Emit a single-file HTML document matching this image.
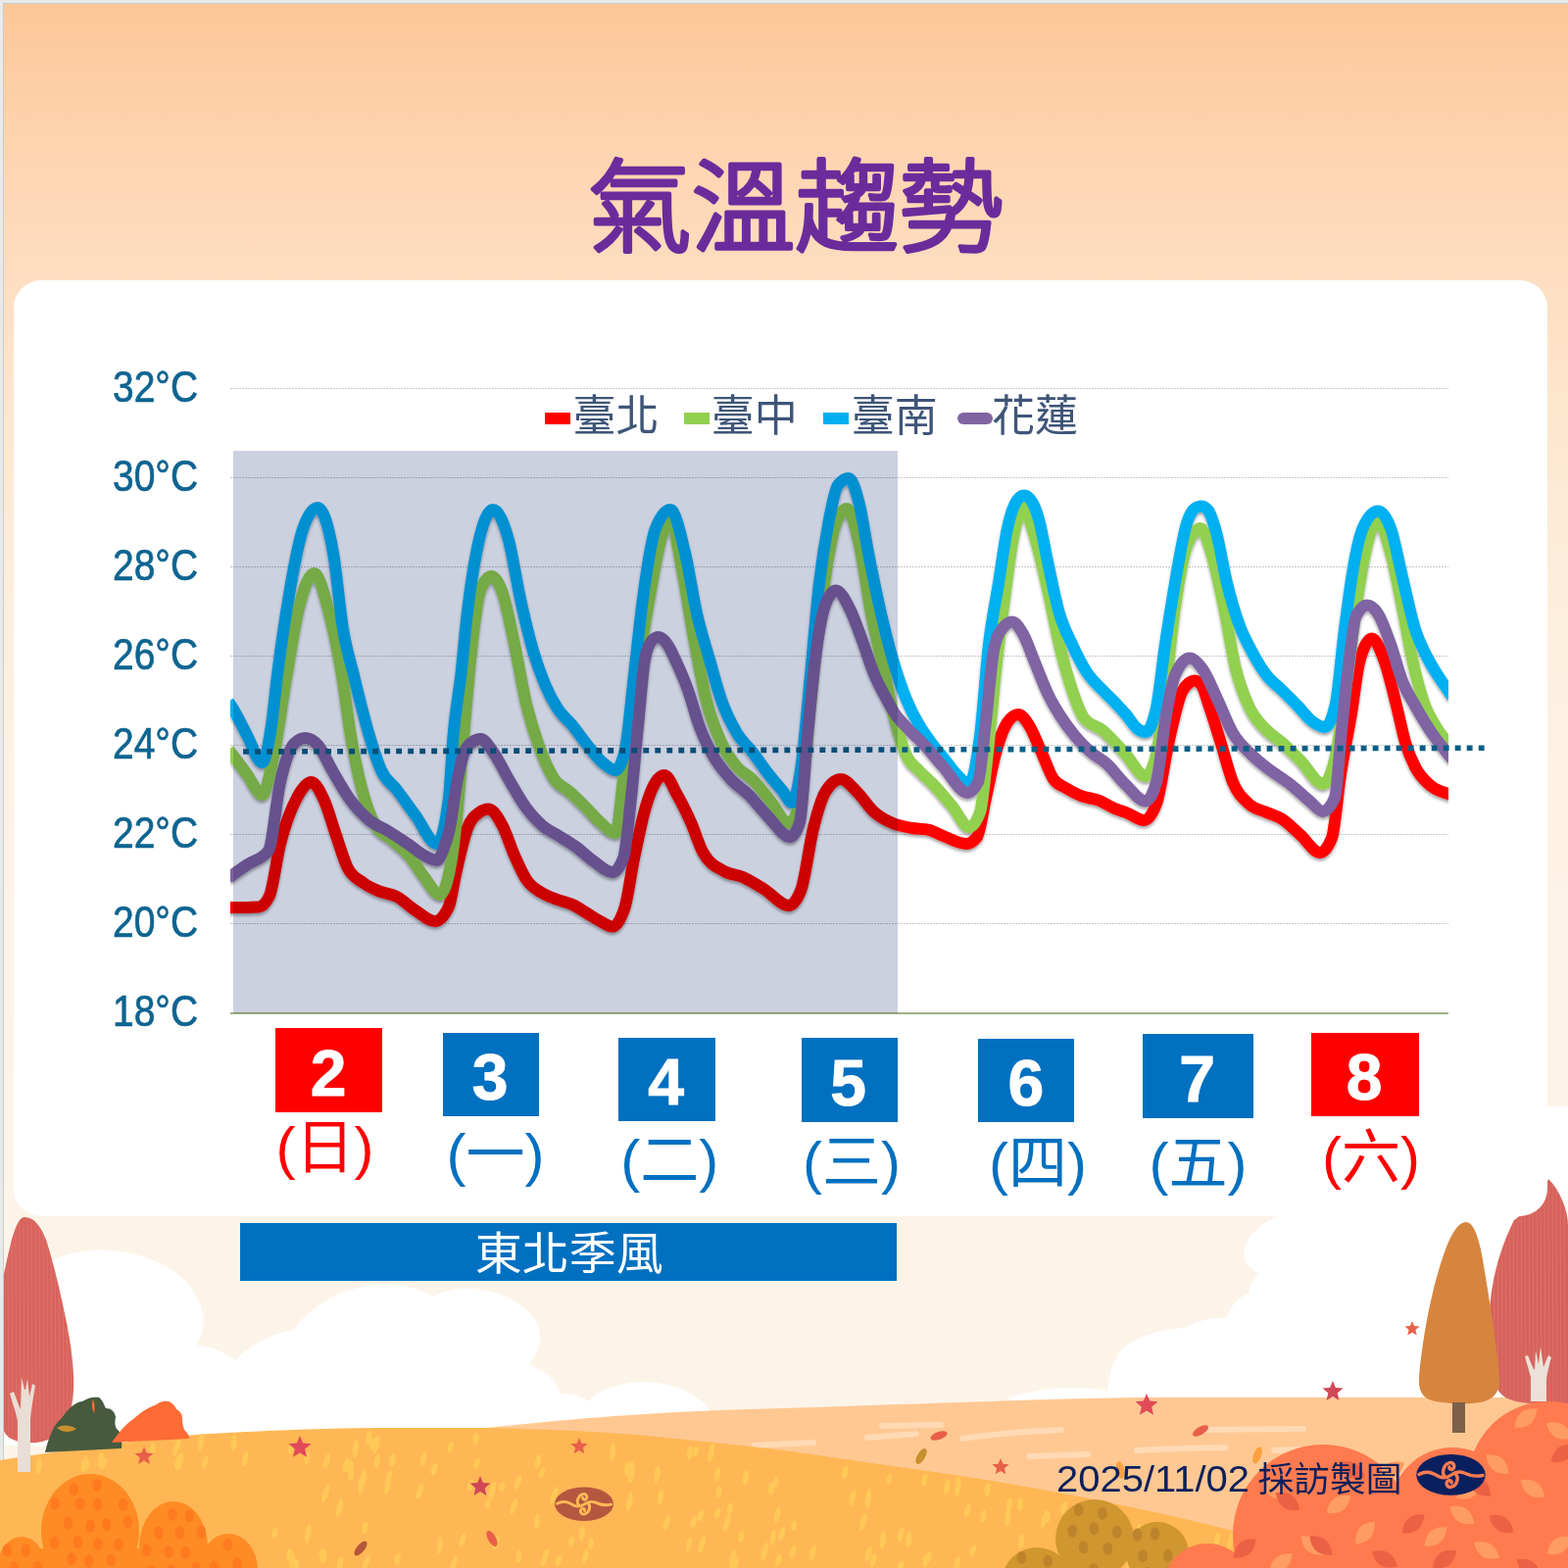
<!DOCTYPE html><html><head><meta charset="utf-8"><title>氣溫趨勢</title><style>
html,body{margin:0;padding:0;width:1600px;height:1600px;overflow:hidden;background:#E8EAEA}
svg{display:block}
.yl{font-family:"Liberation Sans",sans-serif;font-size:45px;fill:#0E6490;stroke:#0E6490;stroke-width:0.7}
.lg{font-family:'Liberation Sans', 'Noto Sans CJK TC', sans-serif;font-size:44px;fill:#3E5578}
.num{font-family:'Liberation Sans',sans-serif;font-weight:700;font-size:66px;fill:#FFFFFF;stroke:#FFFFFF;stroke-width:1}
.wk{font-family:'Liberation Sans', 'Noto Sans CJK TC', sans-serif;font-size:60px}
</style></head><body>
<svg width="1600" height="1600" viewBox="0 0 1600 1600">
<defs>
<linearGradient id="bg" x1="0" y1="0" x2="0" y2="1600" gradientUnits="userSpaceOnUse">
<stop offset="0" stop-color="#FDC698"/>
<stop offset="0.094" stop-color="#FED4AF"/>
<stop offset="0.18" stop-color="#FDDEC2"/>
<stop offset="0.25" stop-color="#FEE5CD"/>
<stop offset="0.375" stop-color="#FDEEDC"/>
<stop offset="0.5" stop-color="#FDF2E4"/>
<stop offset="0.78" stop-color="#FDF4E9"/>
<stop offset="1" stop-color="#FDF4E9"/>
</linearGradient>
<clipPath id="plot"><rect x="235" y="380" width="1243" height="660"/></clipPath>
<filter id="sh" x="-5%" y="-5%" width="110%" height="110%"><feDropShadow dx="0" dy="2.5" stdDeviation="1.8" flood-color="#000" flood-opacity="0.35"/></filter>
</defs>
<rect x="0" y="0" width="1600" height="1600" fill="#E8EAEA"/>
<rect x="3" y="3" width="1597" height="1597" fill="#C9CBCD"/>
<rect x="4" y="4" width="1596" height="1596" fill="url(#bg)"/>
<path d="M45,1292 C60,1280 90,1274 110,1276 C150,1278 185,1295 200,1322 C210,1340 210,1360 200,1372 C215,1374 230,1380 240,1388 C255,1372 280,1360 300,1357 C312,1338 340,1318 375,1312 C395,1308 425,1312 442,1323 C455,1316 470,1314 480,1315 C510,1316 535,1330 545,1345 C555,1360 552,1378 540,1392 C555,1398 568,1408 572,1422 C585,1422 595,1426 600,1430 C610,1420 630,1411 655,1410 C690,1410 715,1425 725,1440 L725,1475 L4,1475 L4,1380 L40,1380 Z" fill="#FFFFFF"/>
<path d="M1305,1241 C1290,1246 1272,1260 1270,1275 C1268,1285 1275,1295 1285,1300 C1278,1305 1274,1313 1275,1320 C1265,1322 1255,1333 1252,1345 C1240,1344 1222,1347 1210,1355 C1190,1356 1160,1362 1145,1377 C1135,1390 1131,1405 1130,1420 C1110,1414 1070,1414 1030,1426 L1030,1440 L1600,1440 L1600,1129 L1570,1129 L1570,1241 Z" fill="#FFFFFF"/>
<path d="M470,1460 C600,1445 700,1439 800,1437 C950,1432 1050,1428 1160,1426 L1600,1426 L1600,1600 L470,1600 Z" fill="#FFC893"/>
<g stroke="#FFDCB8" stroke-width="6" stroke-linecap="round" fill="none" opacity="0.9"><path d="M770,1475 L830,1472"/><path d="M885,1467 Q910,1465 935,1463"/><path d="M982,1468 Q1030,1461 1083,1459"/><path d="M1050,1486 L1110,1484"/><path d="M1160,1480 Q1200,1478 1250,1477"/><path d="M1230,1459 L1330,1458"/><path d="M900,1455 L960,1454"/><path d="M1300,1480 L1360,1478"/></g>
<path d="M0,1490 C80,1478 150,1468 200,1464 C280,1459 340,1457 400,1457 L500,1457 C560,1458 610,1461 650,1464 C700,1469 750,1474 800,1480 C870,1490 940,1500 1000,1509 C1080,1522 1170,1540 1250,1560 L1430,1600 L0,1600 Z" fill="#FFB755"/>
<g fill="#FFC857" opacity="1.0"><ellipse cx="459.8" cy="1476.9" rx="3.0" ry="5.5" transform="rotate(15 459.8 1476.9)"/><ellipse cx="761.0" cy="1508.0" rx="3.0" ry="7.7" transform="rotate(6 761.0 1508.0)"/><ellipse cx="602.8" cy="1574.9" rx="3.0" ry="6.2" transform="rotate(7 602.8 1574.9)"/><ellipse cx="891.0" cy="1592.4" rx="3.0" ry="7.1" transform="rotate(14 891.0 1592.4)"/><ellipse cx="204.8" cy="1472.1" rx="3.0" ry="9.3" transform="rotate(10 204.8 1472.1)"/><ellipse cx="907.3" cy="1509.0" rx="3.0" ry="5.4" transform="rotate(13 907.3 1509.0)"/><ellipse cx="966.2" cy="1517.0" rx="3.0" ry="8.1" transform="rotate(10 966.2 1517.0)"/><ellipse cx="643.5" cy="1498.5" rx="3.0" ry="8.7" transform="rotate(17 643.5 1498.5)"/><ellipse cx="346.6" cy="1538.3" rx="3.0" ry="9.6" transform="rotate(13 346.6 1538.3)"/><ellipse cx="593.7" cy="1564.8" rx="3.0" ry="7.6" transform="rotate(7 593.7 1564.8)"/><ellipse cx="1085.7" cy="1538.1" rx="3.0" ry="6.7" transform="rotate(18 1085.7 1538.1)"/><ellipse cx="987.3" cy="1541.2" rx="3.0" ry="7.4" transform="rotate(14 987.3 1541.2)"/><ellipse cx="1192.8" cy="1592.0" rx="3.0" ry="8.5" transform="rotate(12 1192.8 1592.0)"/><ellipse cx="918.9" cy="1599.0" rx="3.0" ry="6.6" transform="rotate(17 918.9 1599.0)"/><ellipse cx="547.8" cy="1552.0" rx="3.0" ry="7.5" transform="rotate(5 547.8 1552.0)"/><ellipse cx="238.6" cy="1472.0" rx="3.0" ry="9.0" transform="rotate(6 238.6 1472.0)"/><ellipse cx="183.7" cy="1490.9" rx="3.0" ry="9.5" transform="rotate(11 183.7 1490.9)"/><ellipse cx="780.2" cy="1583.1" rx="3.0" ry="9.5" transform="rotate(17 780.2 1583.1)"/><ellipse cx="395.4" cy="1515.2" rx="3.0" ry="9.6" transform="rotate(10 395.4 1515.2)"/><ellipse cx="250.2" cy="1488.6" rx="3.0" ry="7.6" transform="rotate(9 250.2 1488.6)"/><ellipse cx="524.3" cy="1537.1" rx="3.0" ry="8.6" transform="rotate(19 524.3 1537.1)"/><ellipse cx="732.0" cy="1544.6" rx="3.0" ry="5.4" transform="rotate(15 732.0 1544.6)"/><ellipse cx="1241.8" cy="1570.7" rx="3.0" ry="7.1" transform="rotate(11 1241.8 1570.7)"/><ellipse cx="296.4" cy="1478.5" rx="3.0" ry="5.4" transform="rotate(10 296.4 1478.5)"/><ellipse cx="358.2" cy="1505.4" rx="3.0" ry="5.7" transform="rotate(10 358.2 1505.4)"/><ellipse cx="1205.5" cy="1599.0" rx="3.0" ry="7.6" transform="rotate(12 1205.5 1599.0)"/><ellipse cx="486.5" cy="1493.4" rx="3.0" ry="5.9" transform="rotate(17 486.5 1493.4)"/><ellipse cx="749.9" cy="1596.9" rx="3.0" ry="8.7" transform="rotate(18 749.9 1596.9)"/><ellipse cx="370.8" cy="1508.2" rx="3.0" ry="9.0" transform="rotate(8 370.8 1508.2)"/><ellipse cx="756.3" cy="1568.0" rx="3.0" ry="6.2" transform="rotate(10 756.3 1568.0)"/><ellipse cx="1152.3" cy="1597.8" rx="3.0" ry="9.2" transform="rotate(18 1152.3 1597.8)"/><ellipse cx="1162.0" cy="1562.3" rx="3.0" ry="7.7" transform="rotate(8 1162.0 1562.3)"/><ellipse cx="39.7" cy="1495.5" rx="3.0" ry="8.6" transform="rotate(9 39.7 1495.5)"/><ellipse cx="1330.6" cy="1598.3" rx="3.0" ry="7.0" transform="rotate(19 1330.6 1598.3)"/><ellipse cx="313.1" cy="1487.9" rx="3.0" ry="6.1" transform="rotate(8 313.1 1487.9)"/><ellipse cx="886.2" cy="1585.5" rx="3.0" ry="7.5" transform="rotate(18 886.2 1585.5)"/><ellipse cx="927.2" cy="1570.9" rx="3.0" ry="8.5" transform="rotate(6 927.2 1570.9)"/><ellipse cx="472.2" cy="1571.1" rx="3.0" ry="7.1" transform="rotate(20 472.2 1571.1)"/><ellipse cx="570.0" cy="1592.3" rx="3.0" ry="6.0" transform="rotate(16 570.0 1592.3)"/><ellipse cx="180.4" cy="1476.9" rx="3.0" ry="9.2" transform="rotate(19 180.4 1476.9)"/><ellipse cx="497.6" cy="1534.6" rx="3.0" ry="5.2" transform="rotate(7 497.6 1534.6)"/><ellipse cx="747.7" cy="1590.4" rx="3.0" ry="9.5" transform="rotate(12 747.7 1590.4)"/><ellipse cx="357.6" cy="1497.5" rx="3.0" ry="8.1" transform="rotate(9 357.6 1497.5)"/><ellipse cx="368.3" cy="1515.8" rx="3.0" ry="9.7" transform="rotate(7 368.3 1515.8)"/><ellipse cx="502.4" cy="1521.4" rx="3.0" ry="9.7" transform="rotate(14 502.4 1521.4)"/><ellipse cx="597.3" cy="1588.1" rx="3.0" ry="7.8" transform="rotate(13 597.3 1588.1)"/><ellipse cx="625.0" cy="1481.6" rx="3.0" ry="9.2" transform="rotate(5 625.0 1481.6)"/><ellipse cx="1029.8" cy="1535.7" rx="3.0" ry="7.7" transform="rotate(10 1029.8 1535.7)"/><ellipse cx="788.7" cy="1568.7" rx="3.0" ry="8.0" transform="rotate(7 788.7 1568.7)"/><ellipse cx="352.9" cy="1495.2" rx="3.0" ry="7.7" transform="rotate(17 352.9 1495.2)"/><ellipse cx="797.7" cy="1565.2" rx="3.0" ry="7.4" transform="rotate(19 797.7 1565.2)"/><ellipse cx="869.8" cy="1528.3" rx="3.0" ry="8.6" transform="rotate(13 869.8 1528.3)"/><ellipse cx="642.3" cy="1532.3" rx="3.0" ry="9.9" transform="rotate(12 642.3 1532.3)"/><ellipse cx="992.9" cy="1582.1" rx="3.0" ry="6.4" transform="rotate(19 992.9 1582.1)"/><ellipse cx="794.5" cy="1591.8" rx="3.0" ry="5.8" transform="rotate(18 794.5 1591.8)"/><ellipse cx="103.0" cy="1489.9" rx="3.0" ry="8.5" transform="rotate(6 103.0 1489.9)"/><ellipse cx="1113.2" cy="1585.1" rx="3.0" ry="8.8" transform="rotate(7 1113.2 1585.1)"/><ellipse cx="1253.6" cy="1595.3" rx="3.0" ry="10.0" transform="rotate(8 1253.6 1595.3)"/><ellipse cx="565.5" cy="1525.7" rx="3.0" ry="9.3" transform="rotate(20 565.5 1525.7)"/><ellipse cx="732.2" cy="1504.2" rx="3.0" ry="6.7" transform="rotate(8 732.2 1504.2)"/><ellipse cx="786.8" cy="1518.9" rx="3.0" ry="6.8" transform="rotate(5 786.8 1518.9)"/><ellipse cx="886.0" cy="1529.3" rx="3.0" ry="10.1" transform="rotate(6 886.0 1529.3)"/><ellipse cx="1119.5" cy="1595.9" rx="3.0" ry="6.5" transform="rotate(7 1119.5 1595.9)"/><ellipse cx="384.0" cy="1473.8" rx="3.0" ry="9.7" transform="rotate(11 384.0 1473.8)"/><ellipse cx="810.2" cy="1556.6" rx="3.0" ry="5.4" transform="rotate(6 810.2 1556.6)"/><ellipse cx="977.3" cy="1516.7" rx="3.0" ry="9.9" transform="rotate(6 977.3 1516.7)"/><ellipse cx="900.9" cy="1571.2" rx="3.0" ry="9.5" transform="rotate(6 900.9 1571.2)"/><ellipse cx="644.4" cy="1504.2" rx="3.0" ry="9.8" transform="rotate(13 644.4 1504.2)"/><ellipse cx="380.4" cy="1473.7" rx="3.0" ry="6.3" transform="rotate(13 380.4 1473.7)"/><ellipse cx="155.4" cy="1478.4" rx="3.0" ry="6.1" transform="rotate(6 155.4 1478.4)"/><ellipse cx="443.0" cy="1499.2" rx="3.0" ry="6.6" transform="rotate(16 443.0 1499.2)"/><ellipse cx="710.1" cy="1480.8" rx="3.0" ry="5.2" transform="rotate(10 710.1 1480.8)"/><ellipse cx="1041.0" cy="1534.9" rx="3.0" ry="7.5" transform="rotate(8 1041.0 1534.9)"/><ellipse cx="702.9" cy="1576.0" rx="3.0" ry="7.7" transform="rotate(11 702.9 1576.0)"/><ellipse cx="976.6" cy="1597.5" rx="3.0" ry="9.3" transform="rotate(10 976.6 1597.5)"/><ellipse cx="1003.6" cy="1547.2" rx="3.0" ry="6.9" transform="rotate(11 1003.6 1547.2)"/><ellipse cx="362.9" cy="1478.7" rx="3.0" ry="9.4" transform="rotate(6 362.9 1478.7)"/><ellipse cx="400.3" cy="1490.1" rx="3.0" ry="7.4" transform="rotate(9 400.3 1490.1)"/><ellipse cx="373.8" cy="1594.5" rx="3.0" ry="7.9" transform="rotate(20 373.8 1594.5)"/><ellipse cx="347.1" cy="1595.0" rx="3.0" ry="6.9" transform="rotate(10 347.1 1595.0)"/><ellipse cx="674.0" cy="1527.9" rx="3.0" ry="7.7" transform="rotate(8 674.0 1527.9)"/><ellipse cx="432.0" cy="1488.8" rx="3.0" ry="7.8" transform="rotate(14 432.0 1488.8)"/><ellipse cx="1065.8" cy="1550.3" rx="3.0" ry="9.6" transform="rotate(16 1065.8 1550.3)"/><ellipse cx="553.1" cy="1502.3" rx="3.0" ry="5.9" transform="rotate(20 553.1 1502.3)"/><ellipse cx="1028.3" cy="1548.3" rx="3.0" ry="9.4" transform="rotate(6 1028.3 1548.3)"/><ellipse cx="1042.1" cy="1572.8" rx="3.0" ry="7.8" transform="rotate(7 1042.1 1572.8)"/><ellipse cx="716.2" cy="1576.1" rx="3.0" ry="9.3" transform="rotate(17 716.2 1576.1)"/><ellipse cx="829.4" cy="1584.5" rx="3.0" ry="8.6" transform="rotate(15 829.4 1584.5)"/><ellipse cx="793.1" cy="1546.0" rx="3.0" ry="8.6" transform="rotate(14 793.1 1546.0)"/><ellipse cx="1132.7" cy="1563.5" rx="3.0" ry="7.8" transform="rotate(13 1132.7 1563.5)"/><ellipse cx="105.7" cy="1493.5" rx="3.0" ry="6.1" transform="rotate(16 105.7 1493.5)"/><ellipse cx="1050.6" cy="1596.5" rx="3.0" ry="7.1" transform="rotate(12 1050.6 1596.5)"/><ellipse cx="680.2" cy="1554.1" rx="3.0" ry="8.2" transform="rotate(17 680.2 1554.1)"/><ellipse cx="209.3" cy="1491.8" rx="3.0" ry="6.7" transform="rotate(16 209.3 1491.8)"/><ellipse cx="86.1" cy="1494.0" rx="3.0" ry="8.6" transform="rotate(15 86.1 1494.0)"/><ellipse cx="733.5" cy="1522.4" rx="3.0" ry="5.7" transform="rotate(12 733.5 1522.4)"/><ellipse cx="1164.3" cy="1595.4" rx="3.0" ry="6.5" transform="rotate(12 1164.3 1595.4)"/><ellipse cx="298.0" cy="1592.1" rx="3.0" ry="8.1" transform="rotate(8 298.0 1592.1)"/><ellipse cx="328.6" cy="1585.2" rx="3.0" ry="5.2" transform="rotate(12 328.6 1585.2)"/><ellipse cx="640.1" cy="1498.8" rx="3.0" ry="6.9" transform="rotate(7 640.1 1498.8)"/><ellipse cx="448.8" cy="1576.8" rx="3.0" ry="8.9" transform="rotate(5 448.8 1576.8)"/><ellipse cx="528.6" cy="1512.0" rx="3.0" ry="8.1" transform="rotate(20 528.6 1512.0)"/><ellipse cx="512.2" cy="1517.1" rx="3.0" ry="5.3" transform="rotate(9 512.2 1517.1)"/><ellipse cx="405.6" cy="1590.7" rx="3.0" ry="6.5" transform="rotate(9 405.6 1590.7)"/><ellipse cx="725.6" cy="1482.5" rx="3.0" ry="10.0" transform="rotate(11 725.6 1482.5)"/><ellipse cx="1255.7" cy="1572.7" rx="3.0" ry="9.8" transform="rotate(14 1255.7 1572.7)"/><ellipse cx="1068.8" cy="1548.5" rx="3.0" ry="5.3" transform="rotate(9 1068.8 1548.5)"/><ellipse cx="670.5" cy="1504.8" rx="3.0" ry="8.9" transform="rotate(9 670.5 1504.8)"/><ellipse cx="791.4" cy="1512.2" rx="3.0" ry="5.9" transform="rotate(8 791.4 1512.2)"/><ellipse cx="295.2" cy="1586.4" rx="3.0" ry="6.2" transform="rotate(12 295.2 1586.4)"/><ellipse cx="1286.9" cy="1599.5" rx="3.0" ry="5.8" transform="rotate(12 1286.9 1599.5)"/><ellipse cx="485.6" cy="1468.2" rx="3.0" ry="6.4" transform="rotate(9 485.6 1468.2)"/><ellipse cx="808.9" cy="1583.7" rx="3.0" ry="7.2" transform="rotate(16 808.9 1583.7)"/><ellipse cx="587.7" cy="1531.0" rx="3.0" ry="6.8" transform="rotate(11 587.7 1531.0)"/><ellipse cx="88.1" cy="1495.2" rx="3.0" ry="5.7" transform="rotate(20 88.1 1495.2)"/><ellipse cx="714.8" cy="1546.3" rx="3.0" ry="6.2" transform="rotate(18 714.8 1546.3)"/><ellipse cx="384.8" cy="1491.0" rx="3.0" ry="7.4" transform="rotate(11 384.8 1491.0)"/><ellipse cx="556.0" cy="1589.4" rx="3.0" ry="9.5" transform="rotate(17 556.0 1589.4)"/><ellipse cx="741.8" cy="1553.9" rx="3.0" ry="8.8" transform="rotate(19 741.8 1553.9)"/><ellipse cx="919.2" cy="1565.9" rx="3.0" ry="7.9" transform="rotate(12 919.2 1565.9)"/><ellipse cx="330.3" cy="1588.4" rx="3.0" ry="6.6" transform="rotate(15 330.3 1588.4)"/><ellipse cx="181.7" cy="1491.5" rx="3.0" ry="8.7" transform="rotate(15 181.7 1491.5)"/><ellipse cx="744.7" cy="1539.5" rx="3.0" ry="6.2" transform="rotate(11 744.7 1539.5)"/><ellipse cx="428.2" cy="1521.8" rx="3.0" ry="8.4" transform="rotate(19 428.2 1521.8)"/><ellipse cx="333.4" cy="1490.8" rx="3.0" ry="8.7" transform="rotate(19 333.4 1490.8)"/><ellipse cx="707.6" cy="1552.8" rx="3.0" ry="6.4" transform="rotate(11 707.6 1552.8)"/><ellipse cx="947.6" cy="1589.1" rx="3.0" ry="5.3" transform="rotate(8 947.6 1589.1)"/><ellipse cx="480.0" cy="1516.0" rx="3.0" ry="6.1" transform="rotate(15 480.0 1516.0)"/><ellipse cx="1131.8" cy="1562.2" rx="3.0" ry="6.1" transform="rotate(13 1131.8 1562.2)"/><ellipse cx="314.4" cy="1565.3" rx="3.0" ry="10.0" transform="rotate(9 314.4 1565.3)"/><ellipse cx="704.0" cy="1482.2" rx="3.0" ry="7.2" transform="rotate(8 704.0 1482.2)"/><ellipse cx="944.7" cy="1592.6" rx="3.0" ry="7.1" transform="rotate(7 944.7 1592.6)"/><ellipse cx="302.4" cy="1596.2" rx="3.0" ry="5.4" transform="rotate(7 302.4 1596.2)"/><ellipse cx="1275.4" cy="1583.1" rx="3.0" ry="10.2" transform="rotate(16 1275.4 1583.1)"/><ellipse cx="943.5" cy="1509.9" rx="3.0" ry="6.8" transform="rotate(11 943.5 1509.9)"/><ellipse cx="397.3" cy="1506.0" rx="3.0" ry="5.7" transform="rotate(19 397.3 1506.0)"/><ellipse cx="506.4" cy="1574.1" rx="3.0" ry="7.3" transform="rotate(17 506.4 1574.1)"/><ellipse cx="529.3" cy="1588.3" rx="3.0" ry="7.0" transform="rotate(8 529.3 1588.3)"/><ellipse cx="583.3" cy="1572.7" rx="3.0" ry="5.3" transform="rotate(17 583.3 1572.7)"/><ellipse cx="1061.1" cy="1585.3" rx="3.0" ry="6.5" transform="rotate(10 1061.1 1585.3)"/><ellipse cx="372.3" cy="1558.9" rx="3.0" ry="6.5" transform="rotate(10 372.3 1558.9)"/><ellipse cx="332.1" cy="1523.9" rx="3.0" ry="10.0" transform="rotate(19 332.1 1523.9)"/><ellipse cx="548.9" cy="1491.4" rx="3.0" ry="7.6" transform="rotate(11 548.9 1491.4)"/><ellipse cx="1139.6" cy="1562.1" rx="3.0" ry="9.0" transform="rotate(17 1139.6 1562.1)"/><ellipse cx="862.3" cy="1502.5" rx="3.0" ry="6.9" transform="rotate(10 862.3 1502.5)"/><ellipse cx="280.2" cy="1564.2" rx="3.0" ry="5.4" transform="rotate(9 280.2 1564.2)"/><ellipse cx="462.6" cy="1597.1" rx="3.0" ry="10.1" transform="rotate(18 462.6 1597.1)"/><ellipse cx="376.1" cy="1467.2" rx="3.0" ry="7.6" transform="rotate(6 376.1 1467.2)"/><ellipse cx="1007.9" cy="1519.8" rx="3.0" ry="7.2" transform="rotate(9 1007.9 1519.8)"/><ellipse cx="880.8" cy="1552.7" rx="3.0" ry="9.4" transform="rotate(16 880.8 1552.7)"/></g>
<clipPath id="ltc"><path d="M25,1242 C35,1242 42,1252 47,1265 C55,1290 62,1320 68,1350 C73,1375 76,1400 75,1418 C74,1440 68,1458 55,1466 C45,1472 35,1473 25,1472 C14,1471 6,1466 4,1460 L4,1300 C10,1272 16,1242 25,1242 Z"/></clipPath>
<path d="M25,1242 C35,1242 42,1252 47,1265 C55,1290 62,1320 68,1350 C73,1375 76,1400 75,1418 C74,1440 68,1458 55,1466 C45,1472 35,1473 25,1472 C14,1471 6,1466 4,1460 L4,1300 C10,1272 16,1242 25,1242 Z" fill="#D9645D"/>
<g clip-path="url(#ltc)" stroke="#E3847C" stroke-width="1" opacity="0.5"><line x1="8" y1="1250" x2="9" y2="1470"/><line x1="12" y1="1250" x2="13" y2="1470"/><line x1="16" y1="1250" x2="17" y2="1470"/><line x1="20" y1="1250" x2="21" y2="1470"/><line x1="24" y1="1250" x2="25" y2="1470"/><line x1="28" y1="1250" x2="29" y2="1470"/><line x1="32" y1="1250" x2="33" y2="1470"/><line x1="36" y1="1250" x2="37" y2="1470"/><line x1="40" y1="1250" x2="41" y2="1470"/><line x1="44" y1="1250" x2="45" y2="1470"/><line x1="48" y1="1250" x2="49" y2="1470"/><line x1="52" y1="1250" x2="53" y2="1470"/><line x1="56" y1="1250" x2="57" y2="1470"/><line x1="60" y1="1250" x2="61" y2="1470"/><line x1="64" y1="1250" x2="65" y2="1470"/><line x1="68" y1="1250" x2="69" y2="1470"/><line x1="72" y1="1250" x2="73" y2="1470"/></g>
<path d="M18,1502 L18,1450 C16,1440 12,1430 10,1422 L14,1420 C17,1428 19,1434 21,1438 L22,1405 L25,1418 L26,1418 L28,1407 L30,1425 L33,1412 L36,1414 C34,1425 32,1438 31,1448 L31,1502 Z" fill="#E9DED6"/>
<path d="M46,1482 C50,1465 56,1452 63,1447 C70,1437 76,1431 84,1430 C90,1426 96,1425 101,1426 C106,1430 106,1434 108,1437 C113,1437 117,1440 118,1446 C117,1450 117,1455 119,1458 C123,1461 125,1466 124,1478 Z" fill="#475A3E"/>
<path d="M95,1428 C97,1433 97,1438 96,1442 C94,1438 93,1433 95,1428 Z" fill="#FF6B35"/>
<path d="M58,1457 C64,1453 72,1454 78,1458 C72,1462 64,1462 58,1457 Z" fill="#C8902E"/>
<path d="M114,1472 C122,1460 130,1452 136,1448 C145,1440 152,1436 158,1434 C163,1430 168,1429 172,1430 C177,1432 179,1436 180,1438 C184,1440 186,1443 186,1448 C186,1452 187,1456 188,1459 C191,1462 193,1464 193,1468 Z" fill="#FF6B35"/>
<g fill="#FF8B24"><ellipse cx="92" cy="1562" rx="50" ry="58"/><ellipse cx="177" cy="1578" rx="35" ry="46"/><ellipse cx="233" cy="1602" rx="30" ry="37"/><ellipse cx="22" cy="1602" rx="25" ry="34"/><rect x="4" y="1580" width="250" height="20"/></g>
<g fill="#FF7A1E"><ellipse cx="75.2" cy="1519.7" rx="4.8" ry="6.5"/><ellipse cx="99.0" cy="1515.7" rx="4.8" ry="6.5"/><ellipse cx="56.3" cy="1534.3" rx="4.8" ry="6.5"/><ellipse cx="81.6" cy="1534.4" rx="4.8" ry="6.5"/><ellipse cx="99.7" cy="1534.9" rx="4.8" ry="6.5"/><ellipse cx="125.9" cy="1535.3" rx="4.8" ry="6.5"/><ellipse cx="69.5" cy="1553.9" rx="4.8" ry="6.5"/><ellipse cx="92.2" cy="1557.2" rx="4.8" ry="6.5"/><ellipse cx="108.7" cy="1556.0" rx="4.8" ry="6.5"/><ellipse cx="130.3" cy="1552.8" rx="4.8" ry="6.5"/><ellipse cx="55.7" cy="1574.0" rx="4.8" ry="6.5"/><ellipse cx="79.3" cy="1573.7" rx="4.8" ry="6.5"/><ellipse cx="100.3" cy="1575.7" rx="4.8" ry="6.5"/><ellipse cx="120.9" cy="1576.1" rx="4.8" ry="6.5"/><ellipse cx="73.1" cy="1590.8" rx="4.8" ry="6.5"/><ellipse cx="90.5" cy="1593.1" rx="4.8" ry="6.5"/><ellipse cx="113.4" cy="1592.0" rx="4.8" ry="6.5"/><ellipse cx="77.3" cy="1610.2" rx="4.8" ry="6.5"/><ellipse cx="99.9" cy="1608.2" rx="4.8" ry="6.5"/></g>
<g fill="#FF7A1E"><ellipse cx="175.9" cy="1545.4" rx="4.8" ry="6.5"/><ellipse cx="193.2" cy="1546.8" rx="4.8" ry="6.5"/><ellipse cx="161.8" cy="1564.3" rx="4.8" ry="6.5"/><ellipse cx="183.4" cy="1564.3" rx="4.8" ry="6.5"/><ellipse cx="205.3" cy="1563.2" rx="4.8" ry="6.5"/><ellipse cx="149.9" cy="1581.9" rx="4.8" ry="6.5"/><ellipse cx="172.0" cy="1583.3" rx="4.8" ry="6.5"/><ellipse cx="189.1" cy="1584.2" rx="4.8" ry="6.5"/><ellipse cx="154.3" cy="1603.7" rx="4.8" ry="6.5"/><ellipse cx="174.4" cy="1602.8" rx="4.8" ry="6.5"/><ellipse cx="200.0" cy="1599.9" rx="4.8" ry="6.5"/></g>
<g fill="#FF7A1E"><ellipse cx="232.4" cy="1576.1" rx="4.8" ry="6.5"/><ellipse cx="218.6" cy="1599.1" rx="4.8" ry="6.5"/><ellipse cx="242.0" cy="1595.7" rx="4.8" ry="6.5"/><ellipse cx="230.5" cy="1616.3" rx="4.8" ry="6.5"/><ellipse cx="251.6" cy="1617.8" rx="4.8" ry="6.5"/></g>
<g fill="#FF7A1E"><ellipse cx="7.2" cy="1582.2" rx="4.8" ry="6.5"/><ellipse cx="26.3" cy="1581.9" rx="4.8" ry="6.5"/><ellipse cx="14.3" cy="1599.6" rx="4.8" ry="6.5"/><ellipse cx="38.3" cy="1599.0" rx="4.8" ry="6.5"/><ellipse cx="26.9" cy="1619.5" rx="4.8" ry="6.5"/></g>
<g fill="#D0962F"><circle cx="1117" cy="1570" r="40"/><circle cx="1181" cy="1585" r="32"/><circle cx="1058" cy="1615" r="36"/></g>
<g fill="#BE842B"><ellipse cx="1100.8" cy="1540.7" rx="4.8" ry="6.5"/><ellipse cx="1124.8" cy="1544.2" rx="4.8" ry="6.5"/><ellipse cx="1094.2" cy="1562.2" rx="4.8" ry="6.5"/><ellipse cx="1116.4" cy="1560.0" rx="4.8" ry="6.5"/><ellipse cx="1139.8" cy="1563.3" rx="4.8" ry="6.5"/><ellipse cx="1105.6" cy="1578.8" rx="4.8" ry="6.5"/><ellipse cx="1130.3" cy="1580.3" rx="4.8" ry="6.5"/><ellipse cx="1115.8" cy="1601.7" rx="4.8" ry="6.5"/></g>
<g fill="#BE842B"><ellipse cx="1160.5" cy="1566.0" rx="4.8" ry="6.5"/><ellipse cx="1178.6" cy="1564.9" rx="4.8" ry="6.5"/><ellipse cx="1166.1" cy="1587.8" rx="4.8" ry="6.5"/><ellipse cx="1191.7" cy="1587.4" rx="4.8" ry="6.5"/><ellipse cx="1171.0" cy="1605.5" rx="4.8" ry="6.5"/><ellipse cx="1195.4" cy="1603.2" rx="4.8" ry="6.5"/></g>
<g fill="#BE842B"><ellipse cx="1042.5" cy="1589.4" rx="4.8" ry="6.5"/><ellipse cx="1069.2" cy="1593.2" rx="4.8" ry="6.5"/><ellipse cx="1038.5" cy="1612.3" rx="4.8" ry="6.5"/><ellipse cx="1059.3" cy="1613.2" rx="4.8" ry="6.5"/><ellipse cx="1081.4" cy="1611.2" rx="4.8" ry="6.5"/><ellipse cx="1032.2" cy="1629.6" rx="4.8" ry="6.5"/><ellipse cx="1051.7" cy="1626.7" rx="4.8" ry="6.5"/><ellipse cx="1073.5" cy="1631.5" rx="4.8" ry="6.5"/></g>
<clipPath id="rtc"><path d="M1580,1203 C1592,1215 1600,1235 1600,1250 L1600,1432 L1560,1432 C1540,1430 1528,1425 1526,1410 C1520,1380 1518,1345 1522,1318 C1526,1290 1535,1265 1545,1245 C1560,1235 1575,1220 1580,1203 Z"/></clipPath>
<path d="M1580,1203 C1592,1215 1600,1235 1600,1250 L1600,1432 L1560,1432 C1540,1430 1528,1425 1526,1410 C1520,1380 1518,1345 1522,1318 C1526,1290 1535,1265 1545,1245 C1560,1235 1575,1220 1580,1203 Z" fill="#D6625B"/>
<g clip-path="url(#rtc)" stroke="#E3847C" stroke-width="1" opacity="0.5"><line x1="1520" y1="1200" x2="1521" y2="1432"/><line x1="1524" y1="1200" x2="1525" y2="1432"/><line x1="1528" y1="1200" x2="1529" y2="1432"/><line x1="1532" y1="1200" x2="1533" y2="1432"/><line x1="1536" y1="1200" x2="1537" y2="1432"/><line x1="1540" y1="1200" x2="1541" y2="1432"/><line x1="1544" y1="1200" x2="1545" y2="1432"/><line x1="1548" y1="1200" x2="1549" y2="1432"/><line x1="1552" y1="1200" x2="1553" y2="1432"/><line x1="1556" y1="1200" x2="1557" y2="1432"/><line x1="1560" y1="1200" x2="1561" y2="1432"/><line x1="1564" y1="1200" x2="1565" y2="1432"/><line x1="1568" y1="1200" x2="1569" y2="1432"/><line x1="1572" y1="1200" x2="1573" y2="1432"/><line x1="1576" y1="1200" x2="1577" y2="1432"/><line x1="1580" y1="1200" x2="1581" y2="1432"/><line x1="1584" y1="1200" x2="1585" y2="1432"/><line x1="1588" y1="1200" x2="1589" y2="1432"/><line x1="1592" y1="1200" x2="1593" y2="1432"/><line x1="1596" y1="1200" x2="1597" y2="1432"/></g>
<path d="M1562,1430 L1562,1405 C1559,1395 1557,1388 1556,1384 L1559,1383 C1562,1390 1564,1396 1566,1398 L1567,1378 L1570,1392 L1572,1374 L1575,1395 L1580,1383 L1583,1385 C1580,1395 1578,1405 1578,1410 L1578,1430 Z" fill="#ECE1D8"/>
<path d="M1496,1247 C1503,1247 1508,1260 1512,1280 C1519,1320 1527,1370 1530,1405 C1531,1420 1525,1428 1510,1431 C1500,1433 1480,1433 1465,1430 C1452,1428 1447,1420 1448,1405 C1452,1360 1462,1310 1475,1275 C1482,1256 1489,1247 1496,1247 Z" fill="#D6853E"/>
<rect x="1482" y="1431" width="13" height="31" fill="#7C6048"/>
<g fill="#FF7B4F"><circle cx="1350" cy="1566" r="92"/><circle cx="1482" cy="1540" r="63"/><circle cx="1580" cy="1512" r="82"/><circle cx="1232" cy="1620" r="45"/><rect x="1270" y="1540" width="330" height="60"/></g>
<path d="M-15,0 Q0,-15 15,0 Q0,15 -15,0 Z" transform="translate(1366 1535) rotate(-35)" fill="#FF9C63"/><path d="M-15,0 Q0,-15 15,0 Q0,15 -15,0 Z" transform="translate(1393 1564) rotate(-50)" fill="#FF9C63"/><path d="M-15,0 Q0,-15 15,0 Q0,15 -15,0 Z" transform="translate(1339 1577) rotate(40)" fill="#FF9C63"/><path d="M-15,0 Q0,-15 15,0 Q0,15 -15,0 Z" transform="translate(1465 1568) rotate(-40)" fill="#FF9C63"/><path d="M-15,0 Q0,-15 15,0 Q0,15 -15,0 Z" transform="translate(1499 1521) rotate(-30)" fill="#FF9C63"/><path d="M-15,0 Q0,-15 15,0 Q0,15 -15,0 Z" transform="translate(1564 1519) rotate(35)" fill="#FF9C63"/><path d="M-15,0 Q0,-15 15,0 Q0,15 -15,0 Z" transform="translate(1557 1447) rotate(-40)" fill="#FF9C63"/><path d="M-15,0 Q0,-15 15,0 Q0,15 -15,0 Z" transform="translate(1528 1494) rotate(40)" fill="#FF9C63"/><path d="M-15,0 Q0,-15 15,0 Q0,15 -15,0 Z" transform="translate(1591 1577) rotate(-35)" fill="#FF9C63"/><path d="M-15,0 Q0,-15 15,0 Q0,15 -15,0 Z" transform="translate(1517 1582) rotate(30)" fill="#FF9C63"/><path d="M-15,0 Q0,-15 15,0 Q0,15 -15,0 Z" transform="translate(1307 1595) rotate(-40)" fill="#FF9C63"/><path d="M-15,0 Q0,-15 15,0 Q0,15 -15,0 Z" transform="translate(1492 1546) rotate(35)" fill="#FF9C63"/><path d="M-15,0 Q0,-15 15,0 Q0,15 -15,0 Z" transform="translate(1591 1460) rotate(30)" fill="#FF9C63"/><path d="M-15,0 Q0,-15 15,0 Q0,15 -15,0 Z" transform="translate(1420 1500) rotate(-30)" fill="#FF9C63"/><path d="M-15,0 Q0,-15 15,0 Q0,15 -15,0 Z" transform="translate(1300 1520) rotate(40)" fill="#FF9C63"/><path d="M-15,0 Q0,-15 15,0 Q0,15 -15,0 Z" transform="translate(1314 1532) rotate(35)" fill="#EC6144"/><path d="M-15,0 Q0,-15 15,0 Q0,15 -15,0 Z" transform="translate(1442 1555) rotate(-40)" fill="#EC6144"/><path d="M-15,0 Q0,-15 15,0 Q0,15 -15,0 Z" transform="translate(1348 1577) rotate(40)" fill="#EC6144"/><path d="M-15,0 Q0,-15 15,0 Q0,15 -15,0 Z" transform="translate(1532 1555) rotate(35)" fill="#EC6144"/><path d="M-15,0 Q0,-15 15,0 Q0,15 -15,0 Z" transform="translate(1595 1483) rotate(-35)" fill="#EC6144"/><path d="M-15,0 Q0,-15 15,0 Q0,15 -15,0 Z" transform="translate(1413 1591) rotate(30)" fill="#EC6144"/><path d="M-15,0 Q0,-15 15,0 Q0,15 -15,0 Z" transform="translate(1474 1591) rotate(-35)" fill="#EC6144"/><path d="M-15,0 Q0,-15 15,0 Q0,15 -15,0 Z" transform="translate(1510 1517) rotate(40)" fill="#EC6144"/><path d="M-15,0 Q0,-15 15,0 Q0,15 -15,0 Z" transform="translate(1380 1500) rotate(30)" fill="#EC6144"/><path d="M-15,0 Q0,-15 15,0 Q0,15 -15,0 Z" transform="translate(1560 1600) rotate(35)" fill="#EC6144"/><path d="M-15,0 Q0,-15 15,0 Q0,15 -15,0 Z" transform="translate(1270 1580) rotate(-40)" fill="#EC6144"/>
<g transform="translate(596 1534.7)"><ellipse cx="0" cy="0" rx="30" ry="17.3" fill="#B5573F"/><g transform="scale(0.851 0.828)" fill="none" stroke="#FFBA55" stroke-width="3.4" stroke-linecap="round"><path d="M-32.5,-0.4 C-24.5,-4.9 -18.5,-1.9 -12.5,1.6 C-7.5,4.1 -3.5,3.1 0.5,0.1 C4.5,-2.9 8.5,-3.9 13.5,-1.9 C19.5,1.1 25.5,2.1 32.5,0.6"/><path d="M-6.5,1.1 C-9.5,-1.9 -7.5,-9.9 -2.5,-11.9 C2.5,-13.9 4.5,-8.9 2.5,-6.4 C0.5,-4.4 -2.5,-5.9 -1.5,-7.9"/><path d="M4.5,-0.9 C8.5,2.1 6.5,10.1 1.5,12.1 C-3.5,14.1 -5.5,9.1 -3.5,6.6 C-1.5,4.6 1.5,6.1 0.5,8.1"/></g></g>
<polygon points="147.0,1476.0 149.6,1482.4 156.5,1482.9 151.3,1487.4 152.9,1494.1 147.0,1490.5 141.1,1494.1 142.7,1487.4 137.5,1482.9 144.4,1482.4" fill="#E8604A"/>
<polygon points="306.0,1465.0 309.2,1472.6 317.4,1473.3 311.1,1478.7 313.1,1486.7 306.0,1482.4 298.9,1486.7 300.9,1478.7 294.6,1473.3 302.8,1472.6" fill="#E24A5A"/>
<polygon points="591.0,1467.0 593.4,1472.7 599.6,1473.2 594.9,1477.3 596.3,1483.3 591.0,1480.0 585.7,1483.3 587.1,1477.3 582.4,1473.2 588.6,1472.7" fill="#E8604A"/>
<polygon points="490.0,1506.0 492.9,1513.0 500.5,1513.6 494.7,1518.5 496.5,1525.9 490.0,1522.0 483.5,1525.9 485.3,1518.5 479.5,1513.6 487.1,1513.0" fill="#D04858"/>
<polygon points="1021.0,1488.0 1023.4,1493.7 1029.6,1494.2 1024.9,1498.3 1026.3,1504.3 1021.0,1501.0 1015.7,1504.3 1017.1,1498.3 1012.4,1494.2 1018.6,1493.7" fill="#E8604A"/>
<polygon points="1170.0,1422.0 1173.2,1429.6 1181.4,1430.3 1175.1,1435.7 1177.1,1443.7 1170.0,1439.4 1162.9,1443.7 1164.9,1435.7 1158.6,1430.3 1166.8,1429.6" fill="#E24A5A"/>
<polygon points="1360.0,1409.0 1362.9,1416.0 1370.5,1416.6 1364.7,1421.5 1366.5,1428.9 1360.0,1425.0 1353.5,1428.9 1355.3,1421.5 1349.5,1416.6 1357.1,1416.0" fill="#D04858"/>
<polygon points="1441.0,1348.0 1443.1,1353.1 1448.6,1353.5 1444.4,1357.1 1445.7,1362.5 1441.0,1359.6 1436.3,1362.5 1437.6,1357.1 1433.4,1353.5 1438.9,1353.1" fill="#E8604A"/>
<ellipse cx="368" cy="1580" rx="4" ry="9" transform="rotate(40 368 1580)" fill="#B5573A"/>
<ellipse cx="502" cy="1570" rx="4" ry="9" transform="rotate(-30 502 1570)" fill="#E8604A"/>
<ellipse cx="940" cy="1486" rx="4" ry="9" transform="rotate(30 940 1486)" fill="#C8902E"/>
<ellipse cx="958" cy="1465" rx="4" ry="9" transform="rotate(70 958 1465)" fill="#E8604A"/>
<ellipse cx="1225" cy="1460" rx="4" ry="9" transform="rotate(60 1225 1460)" fill="#E8604A"/>
<ellipse cx="1143" cy="1500" rx="4" ry="9" transform="rotate(-10 1143 1500)" fill="#FFA040"/>
<ellipse cx="1283" cy="1485" rx="4" ry="9" transform="rotate(20 1283 1485)" fill="#FFA040"/>
<rect x="14" y="286" width="1565" height="955" rx="28" ry="28" fill="#FFFFFF"/>
<text x="811.5" y="249" text-anchor="middle" style="font-family:'Liberation Sans', 'Noto Sans CJK TC', sans-serif;font-weight:300;font-size:103px;fill:#6A2C9B;stroke:#6A2C9B;stroke-width:4.4;stroke-linejoin:round;stroke-linecap:round" textLength="424" lengthAdjust="spacingAndGlyphs">氣溫趨勢</text>
<line x1="235" y1="396.5" x2="1478" y2="396.5" stroke="#C8C8C8" stroke-width="1" stroke-dasharray="2 1"/>
<line x1="235" y1="487.5" x2="1478" y2="487.5" stroke="#C8C8C8" stroke-width="1" stroke-dasharray="2 1"/>
<line x1="235" y1="578.5" x2="1478" y2="578.5" stroke="#C8C8C8" stroke-width="1" stroke-dasharray="2 1"/>
<line x1="235" y1="669.5" x2="1478" y2="669.5" stroke="#C8C8C8" stroke-width="1" stroke-dasharray="2 1"/>
<line x1="235" y1="760.5" x2="1478" y2="760.5" stroke="#C8C8C8" stroke-width="1" stroke-dasharray="2 1"/>
<line x1="235" y1="851.5" x2="1478" y2="851.5" stroke="#C8C8C8" stroke-width="1" stroke-dasharray="2 1"/>
<line x1="235" y1="942.5" x2="1478" y2="942.5" stroke="#C8C8C8" stroke-width="1" stroke-dasharray="2 1"/>
<line x1="235" y1="1034" x2="1478" y2="1034" stroke="#7C9A55" stroke-width="1.3"/>
<g clip-path="url(#plot)" fill="none" stroke-width="12" stroke-linejoin="round" filter="url(#sh)">
<path d="M233.0,926.0 C234.3,926.0 235.7,926.0 237.0,926.0 C246.0,926.0 255.0,925.9 264.0,925.6 C267.7,925.5 271.3,921.7 275.0,914.0 C278.7,906.3 282.3,875.7 286.0,861.0 C291.7,838.3 297.3,824.6 303.0,814.0 C307.8,805.0 312.7,798.0 317.5,798.0 C322.0,798.0 326.5,806.9 331.0,817.0 C334.8,825.6 338.7,840.0 342.5,851.0 C346.7,863.0 350.8,878.2 355.0,886.0 C360.3,896.0 365.7,897.1 371.0,901.0 C376.0,904.6 381.0,906.8 386.0,909.0 C392.3,911.8 398.7,911.7 405.0,915.0 C411.3,918.3 417.7,924.9 424.0,929.0 C430.7,933.3 437.3,940.0 444.0,940.0 C448.7,940.0 453.3,935.0 458.0,925.0 C460.3,920.0 462.7,902.3 465.0,892.0 C469.0,874.3 473.0,855.5 477.0,845.0 C481.0,834.5 485.0,831.9 489.0,829.0 C492.2,826.7 495.3,825.5 498.5,825.5 C503.3,825.5 508.2,833.7 513.0,843.0 C517.0,850.7 521.0,864.0 525.0,873.0 C529.2,882.4 533.3,891.8 537.5,898.0 C542.7,905.7 547.8,907.7 553.0,911.0 C558.3,914.4 563.7,916.0 569.0,918.0 C574.0,919.9 579.0,920.7 584.0,923.0 C589.3,925.4 594.7,929.3 600.0,932.5 C604.2,935.0 608.3,937.8 612.5,940.0 C616.7,942.2 620.8,945.6 625.0,945.6 C629.2,945.6 633.3,939.1 637.5,926.0 C640.7,916.1 643.8,891.5 647.0,876.0 C651.0,856.4 655.0,836.5 659.0,823.0 C662.3,811.8 665.7,803.2 669.0,798.0 C672.0,793.3 675.0,791.0 678.0,791.0 C682.3,791.0 686.7,803.4 691.0,811.0 C695.7,819.2 700.3,828.5 705.0,839.0 C709.2,848.4 713.3,862.6 717.5,870.0 C724.7,882.7 731.8,884.8 739.0,889.0 C745.3,892.7 751.7,892.3 758.0,895.0 C765.3,898.2 772.7,903.0 780.0,907.5 C788.3,912.6 796.7,924.0 805.0,924.0 C809.2,924.0 813.3,918.5 817.5,907.5 C821.7,896.5 825.8,861.7 830.0,845.0 C834.2,828.3 838.3,814.2 842.5,807.5 C847.7,799.2 852.8,795.0 858.0,795.0 C863.3,795.0 868.7,802.4 874.0,807.5 C880.2,813.4 886.3,823.6 892.5,829.0 C898.7,834.4 904.8,837.4 911.0,840.0 C917.7,842.9 924.3,843.9 931.0,845.0 C936.3,845.9 941.7,845.5 947.0,846.6 C952.2,847.6 957.3,851.0 962.5,853.0 C970.3,856.0 978.2,861.0 986.0,861.0 C989.7,861.0 993.3,858.7 997.0,854.0 C1000.0,850.2 1003.0,827.5 1006.0,814.0 C1009.2,799.6 1012.4,782.0 1015.6,770.0 C1019.7,754.5 1023.9,743.0 1028.0,737.0 C1031.7,731.7 1035.3,729.0 1039.0,729.0 C1042.7,729.0 1046.3,734.3 1050.0,740.0 C1054.2,746.4 1058.3,757.8 1062.5,767.0 C1066.7,776.2 1070.8,789.0 1075.0,795.0 C1079.2,801.0 1083.3,801.4 1087.5,804.0 C1092.7,807.2 1097.8,809.9 1103.0,812.0 C1109.3,814.5 1115.7,814.5 1122.0,817.0 C1127.2,819.1 1132.3,822.8 1137.5,825.0 C1141.3,826.6 1145.2,827.5 1149.0,829.0 C1155.2,831.3 1161.3,837.0 1167.5,837.0 C1171.7,837.0 1175.8,831.3 1180.0,820.0 C1184.2,808.7 1188.3,776.0 1192.5,757.5 C1197.0,737.6 1201.5,715.7 1206.0,706.0 C1208.3,701.0 1210.7,698.9 1213.0,697.0 C1215.0,695.4 1217.0,694.5 1219.0,694.5 C1221.3,694.5 1223.7,696.0 1226.0,699.0 C1228.7,702.4 1231.3,713.2 1234.0,721.0 C1237.9,732.3 1241.7,745.1 1245.6,757.5 C1249.7,770.7 1253.9,787.9 1258.0,798.0 C1263.3,811.0 1268.7,814.9 1274.0,820.0 C1280.2,825.9 1286.3,826.2 1292.5,829.0 C1297.7,831.3 1302.8,832.4 1308.0,835.6 C1314.3,839.5 1320.7,846.4 1327.0,852.0 C1333.7,857.9 1340.3,870.0 1347.0,870.0 C1351.0,870.0 1355.0,865.0 1359.0,855.0 C1362.0,847.5 1365.0,809.5 1368.0,790.0 C1371.7,766.1 1375.3,750.1 1379.0,728.0 C1381.8,710.9 1384.7,684.2 1387.5,674.0 C1391.7,659.0 1395.8,651.5 1400.0,651.5 C1404.2,651.5 1408.3,662.6 1412.5,674.0 C1416.7,685.4 1420.8,703.5 1425.0,720.0 C1428.0,731.9 1431.0,747.4 1434.0,757.5 C1437.3,768.8 1440.7,775.9 1444.0,782.5 C1449.0,792.5 1454.0,796.5 1459.0,801.0 C1465.3,806.7 1471.7,808.2 1478.0,810.0 C1479.3,810.4 1480.7,810.7 1482.0,811.0" stroke="#FF0000"/>
<path d="M233.0,765.0 C234.3,766.7 235.7,768.3 237.0,770.0 C242.0,776.3 247.0,783.3 252.0,790.0 C257.2,796.9 262.3,811.0 267.5,811.0 C271.7,811.0 275.8,787.3 280.0,767.0 C284.2,746.7 288.3,713.5 292.5,689.0 C296.7,664.5 300.8,636.9 305.0,620.0 C310.2,598.9 315.4,585.0 320.6,585.0 C325.7,585.0 330.9,606.3 336.0,626.0 C340.3,642.7 344.7,662.8 349.0,689.0 C352.0,707.2 355.0,733.2 358.0,751.0 C361.2,769.8 364.3,784.9 367.5,798.0 C372.7,819.4 377.8,833.0 383.0,842.0 C388.3,851.3 393.7,851.2 399.0,856.0 C405.2,861.5 411.3,865.7 417.5,873.0 C422.7,879.2 427.8,888.4 433.0,895.0 C438.3,901.8 443.7,913.0 449.0,913.0 C453.0,913.0 457.0,900.7 461.0,876.0 C462.7,865.7 464.3,851.3 466.0,835.0 C468.0,815.4 470.0,788.0 472.0,765.0 C475.0,730.5 478.0,690.9 481.0,664.0 C484.2,635.3 487.4,608.6 490.6,601.0 C494.2,592.3 497.9,588.0 501.5,588.0 C505.2,588.0 508.8,593.8 512.5,604.0 C516.7,615.6 520.8,638.2 525.0,657.5 C529.2,676.8 533.3,702.8 537.5,720.0 C541.7,737.2 545.8,749.4 550.0,761.0 C555.2,775.5 560.4,787.2 565.6,795.0 C570.7,802.7 575.9,802.9 581.0,807.5 C586.3,812.2 591.7,817.7 597.0,823.0 C602.2,828.2 607.3,834.5 612.5,839.0 C617.7,843.5 622.8,850.0 628.0,850.0 C631.2,850.0 634.3,805.5 637.5,782.5 C641.7,752.2 645.8,717.6 650.0,689.0 C654.2,660.4 658.3,634.5 662.5,611.0 C666.7,587.5 670.8,561.9 675.0,548.0 C678.0,538.0 681.0,529.0 684.0,529.0 C687.9,529.0 691.7,559.5 695.6,579.0 C699.7,599.8 703.9,628.7 708.0,651.0 C712.2,673.7 716.4,697.1 720.6,714.0 C725.7,734.6 730.9,746.2 736.0,757.5 C741.3,769.3 746.7,776.2 752.0,782.5 C757.2,788.6 762.3,789.9 767.5,795.0 C773.7,801.0 779.8,809.6 786.0,817.0 C792.3,824.6 798.7,840.0 805.0,840.0 C809.2,840.0 813.3,831.3 817.5,814.0 C820.7,800.8 823.8,750.2 827.0,720.0 C831.0,681.9 835.0,640.8 839.0,611.0 C843.3,578.7 847.7,550.0 852.0,537.0 C856.0,525.0 860.0,519.0 864.0,519.0 C868.3,519.0 872.7,536.9 877.0,556.0 C881.0,573.6 885.0,605.3 889.0,626.0 C893.0,646.7 897.0,662.0 901.0,680.0 C905.0,698.0 909.0,718.9 913.0,734.0 C917.3,750.4 921.7,764.3 926.0,773.0 C929.8,780.7 933.7,781.9 937.5,786.0 C942.7,791.5 947.8,795.6 953.0,801.0 C959.3,807.7 965.7,815.4 972.0,823.0 C977.7,829.8 983.3,844.0 989.0,844.0 C992.7,844.0 996.3,839.0 1000.0,829.0 C1002.7,821.7 1005.3,791.1 1008.0,767.0 C1010.5,744.1 1013.1,712.8 1015.6,689.0 C1018.7,659.6 1021.9,634.9 1025.0,611.0 C1028.0,588.1 1031.0,563.3 1034.0,548.0 C1037.3,531.0 1040.7,518.0 1044.0,518.0 C1048.0,518.0 1052.0,535.0 1056.0,548.0 C1060.3,562.1 1064.7,581.9 1069.0,601.0 C1073.0,618.6 1077.0,640.8 1081.0,657.5 C1085.3,675.5 1089.7,691.2 1094.0,704.0 C1098.0,715.8 1102.0,727.2 1106.0,732.5 C1112.3,740.8 1118.7,739.7 1125.0,745.0 C1130.3,749.5 1135.7,755.2 1141.0,761.0 C1143.7,763.9 1146.3,767.0 1149.0,770.0 C1155.7,777.5 1162.3,792.0 1169.0,792.0 C1172.7,792.0 1176.3,784.7 1180.0,770.0 C1183.0,758.0 1186.0,727.5 1189.0,704.0 C1192.3,677.9 1195.7,643.2 1199.0,620.0 C1203.0,592.2 1207.0,568.1 1211.0,557.5 C1215.7,545.2 1220.3,539.0 1225.0,539.0 C1228.7,539.0 1232.3,552.2 1236.0,564.0 C1240.3,577.9 1244.7,599.3 1249.0,620.0 C1253.0,639.1 1257.0,666.1 1261.0,682.5 C1265.3,700.2 1269.7,710.2 1274.0,720.0 C1280.2,733.9 1286.3,738.5 1292.5,745.0 C1297.7,750.5 1302.8,752.9 1308.0,757.5 C1314.3,763.1 1320.7,769.6 1327.0,776.0 C1334.7,783.7 1342.3,800.0 1350.0,800.0 C1354.0,800.0 1358.0,791.7 1362.0,775.0 C1366.3,756.9 1370.7,720.7 1375.0,690.0 C1379.2,660.5 1383.3,620.4 1387.5,595.0 C1390.7,575.7 1393.8,558.6 1397.0,548.0 C1400.0,538.0 1403.0,531.5 1406.0,531.5 C1410.3,531.5 1414.7,548.3 1419.0,564.0 C1423.0,578.5 1427.0,600.1 1431.0,620.0 C1434.2,635.9 1437.4,655.3 1440.6,670.0 C1444.7,689.0 1448.9,705.0 1453.0,717.0 C1457.2,729.2 1461.4,735.0 1465.6,742.0 C1469.7,748.9 1473.9,753.7 1478.0,759.0 C1479.3,760.7 1480.7,762.4 1482.0,764.0" stroke="#92D050"/>
<path d="M233.0,716.0 C234.3,717.9 235.7,719.9 237.0,722.0 C242.0,729.9 247.0,740.8 252.0,750.0 C257.2,759.5 262.3,778.0 267.5,778.0 C270.7,778.0 273.8,761.4 277.0,740.0 C279.0,726.5 281.0,704.9 283.0,689.0 C287.3,654.5 291.7,625.8 296.0,601.0 C300.3,576.2 304.7,552.7 309.0,540.0 C314.0,525.3 319.0,518.0 324.0,518.0 C329.3,518.0 334.7,533.3 340.0,564.0 C343.3,583.2 346.7,621.6 350.0,642.0 C353.7,664.4 357.3,673.9 361.0,689.0 C366.3,710.9 371.7,733.3 377.0,751.0 C381.0,764.3 385.0,777.2 389.0,786.0 C394.3,797.7 399.7,799.0 405.0,806.0 C411.3,814.3 417.7,823.5 424.0,832.0 C431.3,841.9 438.7,861.0 446.0,861.0 C450.0,861.0 454.0,845.3 458.0,814.0 C459.5,802.2 461.0,768.9 462.5,751.0 C465.3,717.2 468.2,710.0 471.0,683.0 C472.3,670.3 473.7,654.6 475.0,642.0 C479.2,602.8 483.3,576.9 487.5,557.0 C492.7,532.3 497.8,520.0 503.0,520.0 C508.3,520.0 513.7,531.3 519.0,551.0 C523.0,565.8 527.0,592.8 531.0,611.0 C535.3,630.7 539.7,649.1 544.0,664.0 C548.0,677.7 552.0,688.4 556.0,698.0 C560.3,708.4 564.7,716.3 569.0,723.0 C574.0,730.8 579.0,733.9 584.0,740.0 C589.3,746.5 594.7,754.5 600.0,761.0 C605.3,767.5 610.7,774.7 616.0,779.0 C620.0,782.3 624.0,786.0 628.0,786.0 C631.2,786.0 634.3,779.7 637.5,767.0 C640.7,754.3 643.8,715.7 647.0,689.0 C650.0,663.7 653.0,633.2 656.0,611.0 C660.3,579.0 664.7,550.0 669.0,539.0 C674.0,526.3 679.0,520.0 684.0,520.0 C689.0,520.0 694.0,543.1 699.0,564.0 C703.0,580.7 707.0,608.3 711.0,626.0 C715.3,645.2 719.7,657.8 724.0,673.0 C728.0,687.0 732.0,702.5 736.0,714.0 C741.3,729.3 746.7,739.1 752.0,748.0 C757.2,756.6 762.3,760.4 767.5,767.0 C773.7,774.9 779.8,784.2 786.0,792.0 C790.3,797.5 794.7,802.1 799.0,807.5 C802.0,811.2 805.0,819.0 808.0,819.0 C811.2,819.0 814.3,804.2 817.5,782.5 C820.7,760.8 823.8,721.1 827.0,689.0 C830.0,658.5 833.0,620.6 836.0,595.0 C839.2,567.7 842.4,549.3 845.6,532.5 C848.7,516.1 851.9,499.0 855.0,495.0 C858.7,490.3 862.3,488.0 866.0,488.0 C869.7,488.0 873.3,500.0 877.0,515.0 C880.0,527.3 883.0,548.5 886.0,564.0 C890.3,586.4 894.7,607.3 899.0,626.0 C903.0,643.3 907.0,659.2 911.0,673.0 C915.7,689.1 920.3,702.6 925.0,714.0 C929.2,724.2 933.3,731.8 937.5,739.0 C941.7,746.2 945.8,751.8 950.0,757.5 C954.2,763.2 958.3,767.8 962.5,773.0 C966.7,778.2 970.8,784.6 975.0,789.0 C979.7,793.9 984.3,800.0 989.0,800.0 C992.7,800.0 996.3,779.3 1000.0,751.0 C1003.0,727.8 1006.0,682.8 1009.0,657.5 C1012.3,629.4 1015.7,615.8 1019.0,595.0 C1022.0,576.3 1025.0,552.9 1028.0,539.0 C1031.2,524.3 1034.3,515.6 1037.5,511.0 C1040.0,507.3 1042.5,505.5 1045.0,505.5 C1047.7,505.5 1050.3,507.7 1053.0,512.0 C1055.3,515.8 1057.7,521.7 1060.0,530.0 C1063.0,540.6 1066.0,559.1 1069.0,573.0 C1073.0,591.5 1077.0,612.2 1081.0,626.0 C1085.3,641.0 1089.7,648.1 1094.0,657.5 C1099.0,668.4 1104.0,678.4 1109.0,686.0 C1114.3,694.1 1119.7,698.4 1125.0,704.0 C1129.0,708.2 1133.0,711.8 1137.0,716.0 C1141.0,720.2 1145.0,724.3 1149.0,729.0 C1152.7,733.3 1156.3,740.0 1160.0,743.0 C1163.0,745.5 1166.0,747.0 1169.0,747.0 C1172.7,747.0 1176.3,738.7 1180.0,722.0 C1183.0,708.4 1186.0,677.7 1189.0,657.5 C1192.3,635.1 1195.7,614.1 1199.0,595.0 C1203.0,572.1 1207.0,546.6 1211.0,534.0 C1213.7,525.6 1216.3,520.9 1219.0,519.0 C1221.3,517.3 1223.7,516.5 1226.0,516.5 C1228.3,516.5 1230.7,518.0 1233.0,521.0 C1235.7,524.4 1238.3,533.4 1241.0,543.0 C1244.7,556.1 1248.3,580.0 1252.0,595.0 C1256.0,611.4 1260.0,624.8 1264.0,636.0 C1268.3,648.2 1272.7,655.7 1277.0,664.0 C1282.2,673.9 1287.3,682.3 1292.5,689.0 C1297.7,695.7 1302.8,698.9 1308.0,704.0 C1313.3,709.2 1318.7,714.5 1324.0,720.0 C1329.0,725.2 1334.0,732.3 1339.0,736.0 C1343.3,739.2 1347.7,742.0 1352.0,742.0 C1355.5,742.0 1359.0,734.7 1362.5,720.0 C1365.7,706.7 1368.8,666.0 1372.0,642.0 C1375.0,619.2 1378.0,595.9 1381.0,579.0 C1384.2,561.0 1387.4,546.3 1390.6,539.0 C1395.7,527.3 1400.9,521.5 1406.0,521.5 C1410.3,521.5 1414.7,527.3 1419.0,539.0 C1423.0,549.8 1427.0,572.5 1431.0,589.0 C1435.3,606.9 1439.7,628.3 1444.0,642.0 C1448.0,654.7 1452.0,661.9 1456.0,670.0 C1460.3,678.8 1464.7,685.3 1469.0,692.0 C1472.0,696.6 1475.0,700.6 1478.0,705.0 C1479.3,707.0 1480.7,709.0 1482.0,711.0" stroke="#00B0F0"/>
<path d="M233.0,896.0 C234.3,895.0 235.7,894.0 237.0,893.0 C242.0,889.3 247.0,885.9 252.0,882.5 C259.3,877.5 266.7,877.7 274.0,868.0 C278.0,862.7 282.0,815.7 286.0,798.0 C290.7,777.3 295.3,763.9 300.0,759.0 C303.8,755.0 307.7,753.0 311.5,753.0 C316.0,753.0 320.5,755.7 325.0,761.0 C329.7,766.5 334.3,778.0 339.0,786.0 C345.3,796.9 351.7,808.5 358.0,817.0 C364.3,825.5 370.7,831.8 377.0,837.0 C383.3,842.2 389.7,844.1 396.0,848.0 C403.2,852.4 410.3,857.1 417.5,862.0 C422.7,865.5 427.8,870.2 433.0,873.0 C437.3,875.3 441.7,878.0 446.0,878.0 C448.0,878.0 450.0,872.8 452.0,868.0 C454.3,862.4 456.7,856.3 459.0,845.0 C461.3,833.7 463.7,812.5 466.0,800.0 C468.7,785.7 471.3,773.7 474.0,767.0 C476.7,760.3 479.3,758.9 482.0,757.0 C484.9,755.0 487.7,754.0 490.6,754.0 C494.7,754.0 498.9,761.4 503.0,767.0 C508.3,774.2 513.7,785.9 519.0,795.0 C524.7,804.6 530.3,815.2 536.0,823.0 C541.7,830.8 547.3,837.0 553.0,842.0 C559.3,847.6 565.7,850.0 572.0,854.0 C577.2,857.3 582.3,860.3 587.5,864.0 C593.7,868.4 599.8,874.7 606.0,879.0 C612.3,883.4 618.7,890.0 625.0,890.0 C628.7,890.0 632.3,885.3 636.0,876.0 C638.7,869.2 641.3,838.3 644.0,814.0 C646.5,791.2 649.0,761.1 651.5,736.0 C653.7,714.3 655.8,684.4 658.0,673.0 C660.5,659.7 663.1,655.4 665.6,653.0 C667.7,651.0 669.9,650.0 672.0,650.0 C675.3,650.0 678.7,653.8 682.0,659.0 C684.3,662.6 686.7,668.0 689.0,673.0 C693.3,682.2 697.7,691.9 702.0,704.0 C706.0,715.2 710.0,731.3 714.0,742.0 C718.3,753.6 722.7,762.1 727.0,770.0 C733.2,781.3 739.4,788.1 745.6,795.0 C751.7,801.8 757.9,804.9 764.0,811.0 C770.3,817.3 776.7,826.0 783.0,832.5 C790.9,840.6 798.7,854.0 806.6,854.0 C809.7,854.0 812.9,849.0 816.0,839.0 C818.7,830.5 821.3,778.7 824.0,751.0 C827.0,719.9 830.0,686.3 833.0,664.0 C836.2,640.5 839.3,624.1 842.5,616.0 C846.0,607.0 849.5,602.5 853.0,602.5 C857.8,602.5 862.7,612.3 867.5,622.0 C871.7,630.3 875.8,642.8 880.0,654.0 C884.2,665.2 888.3,679.1 892.5,689.0 C896.3,698.1 900.2,704.8 904.0,712.0 C907.0,717.6 910.0,723.5 913.0,728.0 C917.0,734.1 921.0,737.6 925.0,742.0 C931.3,749.0 937.7,754.1 944.0,761.0 C950.2,767.7 956.3,775.6 962.5,782.5 C970.8,791.8 979.2,809.0 987.5,809.0 C991.0,809.0 994.5,805.3 998.0,798.0 C1000.7,792.4 1003.3,758.3 1006.0,736.0 C1008.7,713.7 1011.3,677.6 1014.0,664.0 C1017.0,648.7 1020.0,644.9 1023.0,641.0 C1026.3,636.7 1029.7,634.5 1033.0,634.5 C1036.7,634.5 1040.3,640.6 1044.0,647.0 C1048.0,654.0 1052.0,666.3 1056.0,676.0 C1060.3,686.5 1064.7,698.4 1069.0,707.5 C1073.0,715.9 1077.0,722.5 1081.0,729.0 C1086.3,737.6 1091.7,744.6 1097.0,751.0 C1102.2,757.2 1107.3,762.4 1112.5,767.0 C1118.0,771.9 1123.5,774.1 1129.0,779.0 C1135.7,785.0 1142.3,794.6 1149.0,801.0 C1155.7,807.4 1162.3,817.5 1169.0,817.5 C1172.7,817.5 1176.3,811.0 1180.0,798.0 C1183.0,787.4 1186.0,753.6 1189.0,736.0 C1192.3,716.5 1195.7,696.8 1199.0,689.0 C1204.0,677.3 1209.0,671.5 1214.0,671.5 C1218.3,671.5 1222.7,676.5 1227.0,682.5 C1232.2,689.7 1237.3,703.1 1242.5,714.0 C1247.7,724.9 1252.8,739.1 1258.0,748.0 C1264.3,758.9 1270.7,763.7 1277.0,770.0 C1283.2,776.2 1289.4,780.8 1295.6,785.6 C1302.9,791.3 1310.2,795.2 1317.5,801.0 C1324.0,806.2 1330.5,812.7 1337.0,818.0 C1341.3,821.5 1345.7,828.0 1350.0,828.0 C1354.0,828.0 1358.0,823.3 1362.0,814.0 C1364.3,808.6 1366.7,767.3 1369.0,745.0 C1371.3,722.7 1373.7,698.6 1376.0,680.0 C1378.7,658.7 1381.3,633.1 1384.0,628.0 C1387.7,621.0 1391.3,617.5 1395.0,617.5 C1398.7,617.5 1402.3,620.4 1406.0,626.0 C1410.3,632.6 1414.7,645.4 1419.0,657.5 C1423.0,668.7 1427.0,684.8 1431.0,695.0 C1435.3,706.0 1439.7,712.2 1444.0,720.0 C1449.0,729.0 1454.0,737.4 1459.0,745.0 C1465.3,754.6 1471.7,762.0 1478.0,770.0 C1479.3,771.7 1480.7,773.3 1482.0,775.0" stroke="#8064A2"/>
</g>
<line x1="248.1" y1="767" x2="1514.7" y2="763.2" stroke="#0B5E86" stroke-width="5.6" stroke-dasharray="5.9 6.106"/>
<rect x="238" y="460" width="678" height="574" fill="#CCD1E0" style="mix-blend-mode:multiply"/>
<text x="202" y="409.5" text-anchor="end" class="yl" textLength="87" lengthAdjust="spacingAndGlyphs">32°C</text>
<text x="202" y="500.5" text-anchor="end" class="yl" textLength="87" lengthAdjust="spacingAndGlyphs">30°C</text>
<text x="202" y="591.5" text-anchor="end" class="yl" textLength="87" lengthAdjust="spacingAndGlyphs">28°C</text>
<text x="202" y="682.5" text-anchor="end" class="yl" textLength="87" lengthAdjust="spacingAndGlyphs">26°C</text>
<text x="202" y="773.5" text-anchor="end" class="yl" textLength="87" lengthAdjust="spacingAndGlyphs">24°C</text>
<text x="202" y="864.5" text-anchor="end" class="yl" textLength="87" lengthAdjust="spacingAndGlyphs">22°C</text>
<text x="202" y="955.5" text-anchor="end" class="yl" textLength="87" lengthAdjust="spacingAndGlyphs">20°C</text>
<text x="202" y="1046.5" text-anchor="end" class="yl" textLength="87" lengthAdjust="spacingAndGlyphs">18°C</text>
<rect x="556" y="421" width="26" height="12" fill="#FF0000"/>
<text x="584.4" y="440" class="lg">臺北</text>
<rect x="698" y="421" width="26" height="12" fill="#92D050"/>
<text x="725.8" y="440" class="lg">臺中</text>
<rect x="840" y="421" width="26" height="12" fill="#00B0F0"/>
<text x="868.8" y="440" class="lg">臺南</text>
<rect x="977" y="421" width="36" height="12" rx="6" fill="#8064A2"/>
<text x="1012" y="440" class="lg">花蓮</text>
<rect x="281" y="1049" width="109" height="86" fill="#FF0000"/>
<text x="335.2" y="1117.5" text-anchor="middle" class="num">2</text>
<text x="331.5" y="1192.2" text-anchor="middle" class="wk" style="fill:#FF0000">(日)</text>
<rect x="452" y="1054" width="98" height="85" fill="#0070C0"/>
<text x="500.0" y="1122.0" text-anchor="middle" class="num">3</text>
<text x="505.5" y="1199.2" text-anchor="middle" class="wk" style="fill:#0070C0">(一)</text>
<rect x="631" y="1059" width="99" height="85" fill="#0070C0"/>
<text x="679.5" y="1127.0" text-anchor="middle" class="num">4</text>
<text x="683.3" y="1205.2" text-anchor="middle" class="wk" style="fill:#0070C0">(二)</text>
<rect x="818" y="1059" width="98" height="86" fill="#0070C0"/>
<text x="865.5" y="1127.5" text-anchor="middle" class="num">5</text>
<text x="869.0" y="1207.2" text-anchor="middle" class="wk" style="fill:#0070C0">(三)</text>
<rect x="998" y="1060" width="98" height="85" fill="#0070C0"/>
<text x="1046.8" y="1128.0" text-anchor="middle" class="num">6</text>
<text x="1059.0" y="1207.8" text-anchor="middle" class="wk" style="fill:#0070C0">(四)</text>
<rect x="1166" y="1055" width="113" height="86" fill="#0070C0"/>
<text x="1221.5" y="1123.5" text-anchor="middle" class="num">7</text>
<text x="1222.5" y="1207.8" text-anchor="middle" class="wk" style="fill:#0070C0">(五)</text>
<rect x="1338" y="1054" width="110" height="85" fill="#FF0000"/>
<text x="1392.0" y="1122.0" text-anchor="middle" class="num">8</text>
<text x="1399.0" y="1201.8" text-anchor="middle" class="wk" style="fill:#FF0000">(六)</text>
<rect x="245" y="1248" width="670" height="59" fill="#0070C0"/>
<text x="580.75" y="1294.5" text-anchor="middle" style="font-family:'Liberation Sans', 'Noto Sans CJK TC', sans-serif;font-size:46px;fill:#FFFFFF" textLength="192" lengthAdjust="spacingAndGlyphs">東北季風</text>
<text x="1078" y="1521.5" style="font-family:'Liberation Sans', 'Noto Sans CJK TC', sans-serif;font-size:37px;fill:#0B1F5C" textLength="197" lengthAdjust="spacingAndGlyphs">2025/11/02</text><text x="1283.5" y="1521.5" style="font-family:'Liberation Sans', 'Noto Sans CJK TC', sans-serif;font-size:35px;fill:#0B1F5C" textLength="147" lengthAdjust="spacingAndGlyphs">採訪製圖</text>
<g transform="translate(1480.5 1504.9)"><ellipse cx="0" cy="0" rx="35.25" ry="20.9" fill="#0A1F5E"/><g transform="scale(1.000 1.000)" fill="none" stroke="#FF7C50" stroke-width="3.4" stroke-linecap="round"><path d="M-32.5,-0.4 C-24.5,-4.9 -18.5,-1.9 -12.5,1.6 C-7.5,4.1 -3.5,3.1 0.5,0.1 C4.5,-2.9 8.5,-3.9 13.5,-1.9 C19.5,1.1 25.5,2.1 32.5,0.6"/><path d="M-6.5,1.1 C-9.5,-1.9 -7.5,-9.9 -2.5,-11.9 C2.5,-13.9 4.5,-8.9 2.5,-6.4 C0.5,-4.4 -2.5,-5.9 -1.5,-7.9"/><path d="M4.5,-0.9 C8.5,2.1 6.5,10.1 1.5,12.1 C-3.5,14.1 -5.5,9.1 -3.5,6.6 C-1.5,4.6 1.5,6.1 0.5,8.1"/></g></g>
</svg></body></html>
